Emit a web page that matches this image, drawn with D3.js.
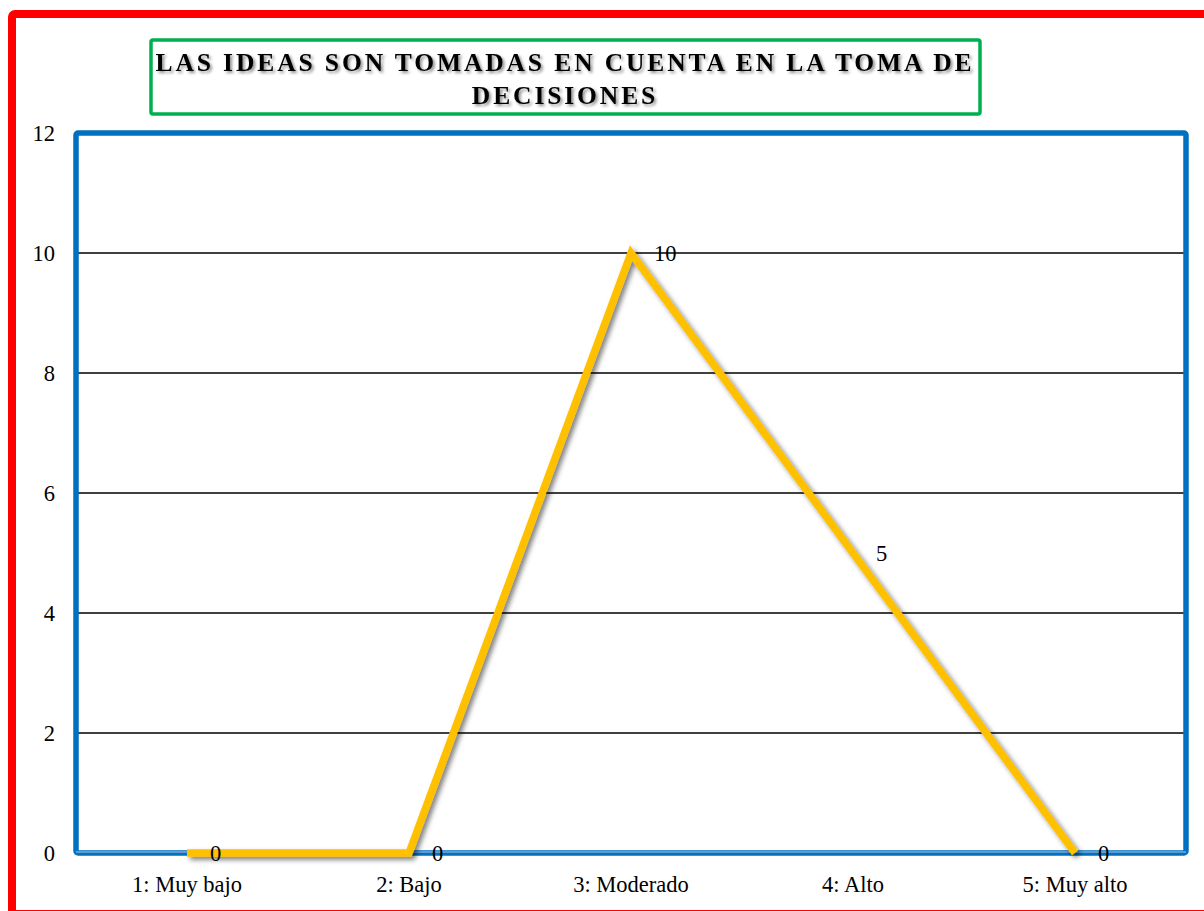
<!DOCTYPE html>
<html lang="es">
<head>
<meta charset="UTF-8">
<title>Las ideas son tomadas en cuenta en la toma de decisiones</title>
<script src="https://d3js.org/d3.v7.min.js"></script>
<style>
    body { margin: 0; background: #fff; }
    svg { display: block; font-family: "Liberation Serif", "DejaVu Serif", serif; }
</style>
</head>
<body>
<div id="chart"></div>
<script>
    // data
    const categories = ["1: Muy bajo", "2: Bajo", "3: Moderado", "4: Alto", "5: Muy alto"];
    const values = [0, 0, 10, 5, 0];
    const yTicks = [0, 2, 4, 6, 8, 10, 12];
    const titleLines = ["LAS IDEAS SON TOMADAS EN CUENTA EN LA TOMA DE", "DECISIONES"];

    const width = 1204, height = 911;
    const plot = { left: 76, right: 1186, top: 133, bottom: 853 };
    const fontSize = 22.5;

    const svg = d3.select("#chart").append("svg")
        .attr("width", width)
        .attr("height", height);

    const defs = svg.append("defs");
    defs.append("filter").attr("id", "shadow")
        .attr("x", "-10%").attr("y", "-10%").attr("width", "130%").attr("height", "130%")
        .append("feDropShadow")
        .attr("dx", 3).attr("dy", 3).attr("stdDeviation", 2.5)
        .attr("flood-color", "#000").attr("flood-opacity", 0.5);
    defs.append("filter").attr("id", "tshadow")
        .attr("x", "-5%").attr("y", "-20%").attr("width", "110%").attr("height", "150%")
        .append("feDropShadow")
        .attr("dx", 2).attr("dy", 2).attr("stdDeviation", 1.5)
        .attr("flood-color", "#000").attr("flood-opacity", 0.45);

    // outer red frame (runs off the right and bottom edges)
    svg.append("rect")
        .attr("x", 12).attr("y", 14)
        .attr("width", 1220).attr("height", 900)
        .attr("rx", 3)
        .attr("fill", "none")
        .attr("stroke", "#ff0000")
        .attr("stroke-width", 8);

    const x = d3.scaleBand()
        .domain(categories)
        .range([plot.left, plot.right]);

    const y = d3.scaleLinear()
        .domain([0, 12])
        .range([plot.bottom, plot.top]);

    // gridlines
    svg.append("g")
        .selectAll("line")
        .data(yTicks.filter(d => d > 0 && d < 12))
        .join("line")
        .attr("x1", plot.left).attr("x2", plot.right)
        .attr("y1", d => y(d)).attr("y2", d => y(d))
        .attr("stroke", "#000")
        .attr("stroke-width", 1.5);

    // y axis labels
    const yAxis = svg.append("g")
        .attr("transform", `translate(${plot.left - 21},0)`)
        .call(d3.axisLeft(y).tickValues(yTicks).tickSize(0).tickPadding(0));
    yAxis.select(".domain").remove();
    yAxis.selectAll("text")
        .attr("font-family", "Liberation Serif, DejaVu Serif, serif")
        .attr("font-size", fontSize)
        .attr("fill", "#000");

    // x axis labels
    const xAxis = svg.append("g")
        .attr("transform", `translate(0,${plot.bottom + 19})`)
        .call(d3.axisBottom(x).tickSize(0).tickPadding(0));
    xAxis.select(".domain").remove();
    xAxis.selectAll("text")
        .attr("dy", "0.9em")
        .attr("font-family", "Liberation Serif, DejaVu Serif, serif")
        .attr("font-size", fontSize)
        .attr("fill", "#000");

    // blue plot frame
    svg.append("rect")
        .attr("x", plot.left).attr("y", plot.top)
        .attr("width", plot.right - plot.left)
        .attr("height", plot.bottom - plot.top)
        .attr("rx", 2)
        .attr("fill", "none")
        .attr("stroke", "#0070c0")
        .attr("stroke-width", 5.5);
    svg.append("line")
        .attr("x1", plot.left).attr("x2", plot.right)
        .attr("y1", plot.bottom - 1).attr("y2", plot.bottom - 1)
        .attr("stroke", "#5b9bd5")
        .attr("stroke-width", 2);

    // the series line
    const line = d3.line()
        .x((d, i) => x(categories[i]) + x.bandwidth() / 2)
        .y(d => y(d));

    svg.append("path")
        .datum(values)
        .attr("d", line)
        .attr("fill", "none")
        .attr("stroke", "#ffc000")
        .attr("stroke-width", 7.5)
        .attr("stroke-linejoin", "miter")
        .attr("filter", "url(#shadow)");

    // data labels
    svg.append("g")
        .selectAll("text")
        .data(values)
        .join("text")
        .attr("x", (d, i) => x(categories[i]) + x.bandwidth() / 2 + 23)
        .attr("y", d => y(d))
        .attr("dy", "0.35em")
        .attr("font-size", fontSize)
        .attr("fill", "#000")
        .text(d => d);

    // title box
    svg.append("rect")
        .attr("x", 151).attr("y", 40)
        .attr("width", 829).attr("height", 74)
        .attr("rx", 2)
        .attr("fill", "#fff")
        .attr("stroke", "#00b050")
        .attr("stroke-width", 3.5);

    svg.append("text")
        .attr("x", 565)
        .attr("text-anchor", "middle")
        .attr("font-size", 25.5)
        .attr("font-weight", "bold")
        .attr("letter-spacing", 2.9)
        .attr("fill", "#000")
        .attr("filter", "url(#tshadow)")
        .selectAll("tspan")
        .data(titleLines)
        .join("tspan")
        .attr("x", 565)
        .attr("y", (d, i) => 71 + i * 33)
        .text(d => d);
</script>
</body>
</html>
